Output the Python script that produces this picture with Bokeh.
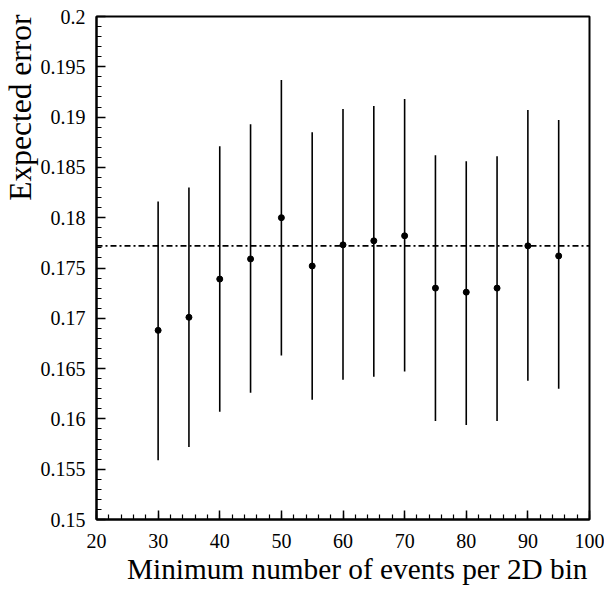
from bokeh.plotting import figure
from bokeh.models import Title, CustomJSTickFormatter, SingleIntervalTicker, Range1d
from bokeh.embed import file_html
from bokeh.resources import INLINE

# --- data ---
min_events = [30, 35, 40, 45, 50, 55, 60, 65, 70, 75, 80, 85, 90, 95]
expected_error = [0.1688, 0.1701, 0.1739, 0.1759, 0.1800, 0.1752, 0.1773,
                  0.1777, 0.1782, 0.1730, 0.1726, 0.1730, 0.1772, 0.1762]
err_high = [0.1816, 0.1830, 0.1871, 0.1893, 0.1937, 0.1885, 0.1908,
            0.1911, 0.1918, 0.1862, 0.1856, 0.1861, 0.1907, 0.1897]
err_low = [0.1559, 0.1572, 0.1607, 0.1626, 0.1663, 0.1619, 0.1639,
           0.1642, 0.1647, 0.1598, 0.1594, 0.1598, 0.1638, 0.1630]
reference_level = 0.1772
x_range = (20, 100)
y_range = (0.15, 0.2)
x_title = "Minimum number of events per 2D bin"
y_title = "Expected error"

FONT = "Liberation Serif"

p = figure(width=604, height=589, output_backend="svg", toolbar_location=None,
           x_range=Range1d(*x_range), y_range=Range1d(*y_range),
           min_border_left=96, min_border_right=15, min_border_top=16,
           min_border_bottom=70)
p.background_fill_color = "white"
p.border_fill_color = "white"
p.grid.visible = False
p.outline_line_color = "black"
p.outline_line_width = 2

for ax in (p.xaxis[0], p.yaxis[0]):
    ax.axis_line_width = 2
    ax.axis_line_color = "black"
    ax.major_tick_in = 9
    ax.major_tick_out = 0
    ax.minor_tick_in = 5
    ax.minor_tick_out = 0
    ax.major_tick_line_color = "black"
    ax.minor_tick_line_color = "black"
    ax.major_tick_line_width = 1.5
    ax.minor_tick_line_width = 1.2
    ax.major_label_text_font = FONT
    ax.major_label_text_font_size = "20px"
    ax.major_label_text_color = "black"

p.xaxis[0].ticker = SingleIntervalTicker(interval=10, num_minor_ticks=5)
p.yaxis[0].ticker = SingleIntervalTicker(interval=0.005, num_minor_ticks=5)
p.xaxis[0].major_label_standoff = 14
p.yaxis[0].major_label_standoff = 11
p.yaxis[0].formatter = CustomJSTickFormatter(
    code="return parseFloat(tick.toFixed(4)).toString();")

# error bars
p.segment(x0=min_events, y0=err_low, x1=min_events, y1=err_high,
          line_color="black", line_width=1.6)
# points
p.scatter(x=min_events, y=expected_error, size=6, color="black")
# reference dash-dot line
p.line(x=list(x_range), y=[reference_level, reference_level],
       line_color="black", line_width=1.8, line_dash="6 3 2 3")

# titles (ROOT style: right-aligned)
p.add_layout(Title(text=x_title, align="right", text_font=FONT,
                   text_font_size="29.3px", text_font_style="normal",
                   text_color="black", offset=2, standoff=0), "below")
p.add_layout(Title(text=y_title, align="right", text_font=FONT,
                   text_font_size="31.5px", text_font_style="normal",
                   text_color="black", offset=-2, standoff=0), "left")

open("out.html", "w").write(file_html(p, INLINE))
